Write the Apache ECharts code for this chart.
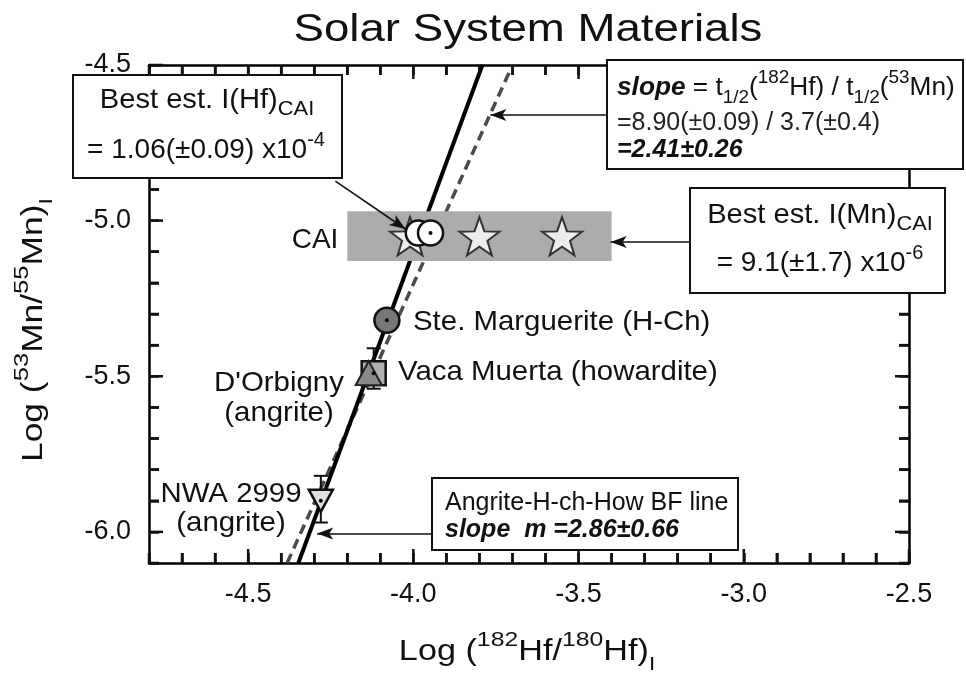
<!DOCTYPE html>
<html><head><meta charset="utf-8">
<script src="https://cdn.jsdelivr.net/npm/echarts@6/dist/echarts.min.js"></script>
<style>html,body{margin:0;padding:0;background:#fff}#c{width:966px;height:679px}</style>
</head><body><div id="c"></div>
<script>
// ---- data ----
const xTickLabels = [-4.5, -4.0, -3.5, -3.0, -2.5];
const yTickLabels = [-6.0, -5.5, -5.0, -4.5];
const caiBandX = [-4.2, -3.4];
const caiBandY = [-4.97, -5.13];
const caiStarX = [-4.01, -3.80, -3.55];
const caiStarY = [-5.05, -5.05, -5.05];
const caiCircleX = [-3.985, -3.948];
const caiCircleY = [-5.04, -5.04];
const margueriteXY = [-4.08, -5.32];
const vacaXY = [-4.12, -5.49];
const vacaErrY = [-5.41, -5.54];
const dorbignyXY = [-4.135, -5.49];
const nwaXY = [-4.28, -5.90];
const nwaErrY = [-5.82, -5.97];
const bfLineX = [-4.348, -3.791];
const bfLineY = [-6.1, -4.5];
const halfLifeLineX = [-4.382, -3.70];
const halfLifeLineY = [-6.1, -4.5];

const FONT = 'Liberation Sans, Arial, Helvetica, sans-serif';
const XMIN = -4.8, XMAX = -2.5, YMIN = -6.1, YMAX = -4.5, STEP = 0.1;

function zip(xs, ys) { return xs.map((x, i) => [x, ys[i]]); }
function steps(a, b, s) { const out = []; const n = Math.round((b - a) / s); for (let i = 0; i <= n; i++) out.push(+(a + i * s).toFixed(4)); return out; }
function starPath() {
  let p = [];
  for (let i = 0; i < 10; i++) {
    const a = -Math.PI / 2 + i * Math.PI / 5;
    const r = i % 2 ? 40 : 100;
    p.push((i ? 'L' : 'M') + (r * Math.cos(a)).toFixed(2) + ' ' + (r * Math.sin(a)).toFixed(2));
  }
  return 'path://' + p.join(' ') + ' Z';
}
const isMajor = (v, list) => list.some(t => Math.abs(t - v) < 1e-6);
const tickFmt = v => { const r = Math.round(v * 10); return (r % 5 === 0) ? (r / 10).toFixed(1) : ''; };

const mkLine = () => ({ show: true, onZero: false, lineStyle: { color: '#000', width: 2.5 } });
const mkTick = () => ({ show: true, inside: true, length: 10, lineStyle: { color: '#111', width: 2.5 } });

const chart = echarts.init(document.getElementById('c'));

const errData = [[vacaXY[0], vacaErrY[0], vacaErrY[1]], [nwaXY[0], nwaErrY[0], nwaErrY[1]]];
const xTickData = steps(XMIN, XMAX, STEP).map(v => [v, YMIN]);
const yTickData = steps(YMIN, YMAX, STEP).map(v => [XMIN, v]);

const sup = { fontSize: 20, lineHeight: 18, verticalAlign: 'top', fontFamily: FONT, color: '#111' };
const sub = { fontSize: 20, lineHeight: 18, verticalAlign: 'bottom', fontFamily: FONT, color: '#111' };

function txt(x, y, text, opt) {
  opt = opt || {};
  return {
    type: 'text', x, y, z: 101, rotation: opt.rotation || 0, scaleX: opt.scaleX || 1,
    style: Object.assign({
      text, fontFamily: FONT, fontSize: opt.fontSize || 28, fill: opt.fill || '#111',
      align: opt.align || 'left', verticalAlign: 'middle',
      fontWeight: opt.fontWeight || 'normal', fontStyle: opt.fontStyle || 'normal'
    }, opt.rich ? { rich: opt.rich } : {})
  };
}
function box(x, y, w, h) {
  return { type: 'rect', z: 100, shape: { x, y, width: w, height: h },
    style: { fill: '#fff', stroke: '#111', lineWidth: 2 } };
}
const labelStyle = () => ({ formatter: tickFmt, margin: 18, color: '#111', fontSize: 27, fontFamily: FONT });

const option = {
  animation: false,
  backgroundColor: '#fff',
  grid: { left: 149, right: 57, top: 65, bottom: 116, containLabel: false },
  xAxis: [
    { type: 'value', position: 'bottom', min: XMIN, max: XMAX, interval: STEP,
      axisLine: mkLine(), axisTick: mkTick(), splitLine: { show: false }, axisLabel: labelStyle() },
    { type: 'value', position: 'top', min: XMIN, max: XMAX, interval: STEP,
      axisLine: mkLine(), axisTick: mkTick(), splitLine: { show: false }, axisLabel: { show: false } }
  ],
  yAxis: [
    { type: 'value', position: 'left', min: YMIN, max: YMAX, interval: STEP,
      axisLine: mkLine(), axisTick: mkTick(), splitLine: { show: false }, axisLabel: labelStyle() },
    { type: 'value', position: 'right', min: YMIN, max: YMAX, interval: STEP,
      axisLine: mkLine(), axisTick: mkTick(), splitLine: { show: false }, axisLabel: { show: false } }
  ],
  series: [
    { type: 'custom', name: 'x ticks', z: 10, silent: true, data: xTickData,
      renderItem: (params, api) => {
        const v = api.value(0);
        const b = api.coord([v, YMIN]), t = api.coord([v, YMAX]);
        const len = isMajor(v, xTickLabels) ? 14 : 10;
        const ls = { stroke: '#111', lineWidth: 2.5 };
        return { type: 'group', children: [
          { type: 'line', shape: { x1: b[0], y1: b[1], x2: b[0], y2: b[1] - len }, style: ls },
          { type: 'line', shape: { x1: t[0], y1: t[1], x2: t[0], y2: t[1] + len }, style: ls }
        ] };
      } },
    { type: 'custom', name: 'y ticks', z: 10, silent: true, data: yTickData,
      renderItem: (params, api) => {
        const v = api.value(1);
        const l = api.coord([XMIN, v]), r = api.coord([XMAX, v]);
        const len = isMajor(v, yTickLabels) ? 14 : 10;
        const ls = { stroke: '#111', lineWidth: 2.5 };
        return { type: 'group', children: [
          { type: 'line', shape: { x1: l[0], y1: l[1], x2: l[0] + len, y2: l[1] }, style: ls },
          { type: 'line', shape: { x1: r[0], y1: r[1], x2: r[0] - len, y2: r[1] }, style: ls }
        ] };
      } },
    { type: 'line', name: 'half-life slope', data: zip(halfLifeLineX, halfLifeLineY), symbol: 'none', z: 2,
      lineStyle: { color: '#4a4a4a', width: 3.5, type: [10, 6] } },
    { type: 'line', name: 'BF line', data: zip(bfLineX, bfLineY), symbol: 'none', z: 2,
      lineStyle: { color: '#000', width: 4 } },
    { type: 'custom', name: 'CAI band', z: 3, data: [[caiBandX[0], caiBandY[0], caiBandX[1], caiBandY[1]]],
      renderItem: (params, api) => {
        const p0 = api.coord([api.value(0), api.value(1)]);
        const p1 = api.coord([api.value(2), api.value(3)]);
        return { type: 'rect', shape: { x: p0[0], y: p0[1], width: p1[0] - p0[0], height: p1[1] - p0[1] },
          style: { fill: '#acacac' } };
      } },
    { type: 'custom', name: 'error bars', z: 4, data: errData,
      renderItem: (params, api) => {
        const a = api.coord([api.value(0), api.value(1)]);
        const b = api.coord([api.value(0), api.value(2)]);
        const w = 7;
        const ls = { stroke: '#111', lineWidth: 2 };
        return { type: 'group', children: [
          { type: 'line', shape: { x1: a[0], y1: a[1], x2: b[0], y2: b[1] }, style: ls },
          { type: 'line', shape: { x1: a[0] - w, y1: a[1], x2: a[0] + w, y2: a[1] }, style: ls },
          { type: 'line', shape: { x1: b[0] - w, y1: b[1], x2: b[0] + w, y2: b[1] }, style: ls }
        ] };
      } },
    { type: 'scatter', name: 'CAI stars', z: 5, data: zip(caiStarX, caiStarY), symbol: starPath(), symbolSize: [40, 38],
      itemStyle: { color: '#ececec', borderColor: '#333', borderWidth: 2, opacity: 1 } },
    { type: 'scatter', name: 'CAI Hf', z: 6, data: zip(caiCircleX, caiCircleY), symbol: 'circle', symbolSize: 25,
      itemStyle: { color: '#fff', borderColor: '#111', borderWidth: 2.5, opacity: 1 } },
    { type: 'scatter', name: 'Ste. Marguerite', z: 6, data: [margueriteXY], symbol: 'circle', symbolSize: 25,
      itemStyle: { color: '#777', borderColor: '#111', borderWidth: 2.5, opacity: 1 } },
    { type: 'scatter', name: 'Vaca Muerta', z: 6, data: [vacaXY], symbol: 'rect', symbolSize: 24,
      itemStyle: { color: '#b0b0b0', borderColor: '#111', borderWidth: 2.5, opacity: 1 } },
    { type: 'scatter', name: "D'Orbigny", z: 7, data: [dorbignyXY], symbol: 'triangle', symbolSize: [26, 24],
      itemStyle: { color: '#8a8a8a', borderColor: '#222', borderWidth: 2, opacity: 1 } },
    { type: 'scatter', name: 'NWA 2999', z: 6, data: [nwaXY], symbol: 'triangle', symbolRotate: 180, symbolSize: [24, 22],
      itemStyle: { color: '#e0e0e0', borderColor: '#111', borderWidth: 2.5, opacity: 1 } },
    { type: 'scatter', name: 'centre dots', z: 8,
      data: zip(caiCircleX.slice(1), caiCircleY.slice(1)).concat([margueriteXY, vacaXY, nwaXY]),
      symbol: 'circle', symbolSize: 4, itemStyle: { color: '#000', opacity: 1 } },
    { type: 'line', name: 'arrows', data: [], z: 9,
      markLine: { silent: true, symbol: ['none', 'arrow'], symbolSize: [9, 16],
        lineStyle: { color: '#111', width: 1.6, type: 'solid' }, label: { show: false },
        data: [
          [{ coord: [-4.236, -4.873] }, { coord: [-4.024, -5.027] }],
          [{ coord: [-3.412, -4.661] }, { coord: [-3.767, -4.661] }],
          [{ coord: [-3.161, -5.069] }, { coord: [-3.403, -5.069] }],
          [{ coord: [-3.942, -6.005] }, { coord: [-4.291, -6.005] }]
        ] } }
  ],
  graphic: [
    txt(528, 31, 'Solar System Materials', { align: 'center', fontSize: 38, scaleX: 1.2 }),

    box(73, 75, 269, 103),
    txt(207, 100, '{n|Best est. I(Hf)}{s|CAI}', { align: 'center', scaleX: 1.04, rich: { n: { fontSize: 28, lineHeight: 40, fontFamily: FONT, color: '#111' }, s: Object.assign({}, sub, { fontSize: 21 }) } }),
    txt(206, 150, '{n|= 1.06(±0.09) x10}{p|-4}', { align: 'center', rich: { n: { fontSize: 28, lineHeight: 40, fontFamily: FONT, color: '#444' }, p: Object.assign({}, sup, { color: '#444' }) } }),

    box(607, 60, 356, 109),
    txt(617, 88, '{b|slope}{n| = t}{s|1/2}{n|(}{p|182}{n|Hf) / t}{s|1/2}{n|(}{p|53}{n|Mn)}',
      { scaleX: 1.05, rich: { b: { fontSize: 25, lineHeight: 38, fontWeight: 'bold', fontStyle: 'italic', fontFamily: FONT, color: '#111' },
                n: { fontSize: 25, lineHeight: 38, fontFamily: FONT, color: '#111' },
                s: Object.assign({}, sub, { fontSize: 18 }), p: Object.assign({}, sup, { fontSize: 18 }) } }),
    txt(617, 123, '=8.90(±0.09) / 3.7(±0.4)', { fontSize: 25, fill: '#222' }),
    txt(617, 150, '=2.41±0.26', { fontSize: 25, fontWeight: 'bold', fontStyle: 'italic' }),

    box(690, 188, 255, 105),
    txt(820, 215, '{n|Best est. I(Mn)}{s|CAI}', { align: 'center', scaleX: 1.04, rich: { n: { fontSize: 28, lineHeight: 40, fontFamily: FONT, color: '#111' }, s: Object.assign({}, sub, { fontSize: 21 }) } }),
    txt(820, 263, '{n|= 9.1(±1.7) x10}{p|-6}', { align: 'center', rich: { n: { fontSize: 28, lineHeight: 40, fontFamily: FONT, color: '#333' }, p: Object.assign({}, sup, { color: '#333' }) } }),

    box(432, 478, 306, 72),
    txt(445, 503, 'Angrite-H-ch-How BF line', { fontSize: 25 }),
    txt(445, 530, 'slope  m =2.86±0.66', { fontSize: 25, fontWeight: 'bold', fontStyle: 'italic' }),

    txt(315, 240, 'CAI', { align: 'center' }),
    txt(413, 322, 'Ste. Marguerite (H-Ch)', { scaleX: 1.05 }),
    txt(398, 372, 'Vaca Muerta (howardite)', { scaleX: 1.05 }),
    txt(279, 383, "D'Orbigny", { align: 'center', scaleX: 1.05 }),
    txt(279, 413, '(angrite)', { align: 'center', scaleX: 1.05 }),
    txt(231, 494, 'NWA 2999', { align: 'center', scaleX: 1.05 }),
    txt(231, 523, '(angrite)', { align: 'center', scaleX: 1.05 }),

    txt(527, 652, '{n|Log (}{p|182}{n|Hf/}{p|180}{n|Hf)}{s|I}', { align: 'center', scaleX: 1.18,
      rich: { n: { fontSize: 29, lineHeight: 44, fontFamily: FONT, color: '#111' }, p: Object.assign({}, sup, { fontSize: 21 }), s: Object.assign({}, sub, { fontSize: 19 }) } }),
    txt(34, 330, '{n|Log (}{p|53}{n|Mn/}{p|55}{n|Mn)}{s|I}', { align: 'center', rotation: Math.PI / 2, scaleX: 1.22,
      rich: { n: { fontSize: 29, lineHeight: 44, fontFamily: FONT, color: '#111' }, p: Object.assign({}, sup, { fontSize: 21 }), s: Object.assign({}, sub, { fontSize: 19 }) } })
  ]
};
chart.setOption(option);
</script>
</body></html>
